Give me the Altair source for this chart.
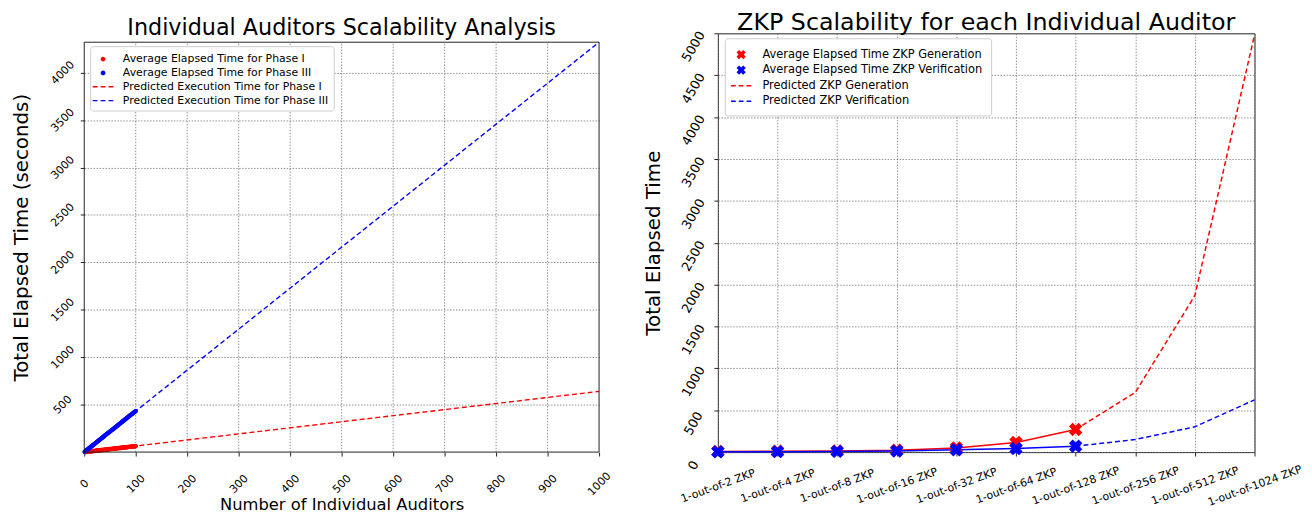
import altair as alt
import pandas as pd

FONT = "DejaVu Sans"

# ---------------- Left chart data ----------------
auditors = list(range(1, 101))
phase1_avg = [
    1, 1, 2, 3, 3, 4, 4, 5, 6, 6,
    7, 8, 8, 9, 9, 10, 11, 11, 12, 13,
    13, 14, 15, 15, 16, 16, 17, 18, 18, 19,
    20, 20, 21, 21, 22, 23, 23, 24, 25, 25,
    26, 26, 27, 28, 28, 29, 30, 30, 31, 32,
    32, 33, 33, 34, 35, 35, 36, 37, 37, 38,
    38, 39, 40, 40, 41, 42, 42, 43, 43, 44,
    45, 45, 46, 47, 47, 48, 49, 49, 50, 50,
    51, 52, 52, 53, 54, 54, 55, 55, 56, 57,
    57, 58, 59, 59, 60, 61, 61, 62, 62, 63,
]
phase3_avg = [
    4, 9, 12, 18, 21, 27, 30, 34, 40, 43,
    47, 53, 56, 60, 66, 69, 73, 78, 83, 86,
    90, 96, 99, 104, 109, 112, 116, 122, 125, 130,
    135, 138, 142, 148, 151, 155, 161, 164, 169, 174,
    177, 182, 187, 190, 195, 200, 203, 208, 213, 216,
    221, 226, 229, 234, 239, 242, 247, 252, 255, 260,
    265, 268, 273, 278, 281, 286, 291, 294, 299, 304,
    307, 312, 317, 320, 325, 330, 333, 338, 343, 346,
    351, 356, 359, 364, 369, 372, 377, 382, 385, 390,
    395, 398, 403, 408, 411, 416, 421, 424, 429, 434,
]
pred_x = [0, 1000]
pred_phase1 = [0, 640]
pred_phase3 = [0, 4320]
left_x_ticks = [0, 100, 200, 300, 400, 500, 600, 700, 800, 900, 1000]
left_y_ticks = [500, 1000, 1500, 2000, 2500, 3000, 3500, 4000]
LEFT_X_MAX = 1000
LEFT_Y_MAX = 4320          # top of the left plot frame
LEFT_Y_SCALE_MAX = 4414    # scale extends a little above the frame (layout alignment)

LEFT_SERIES = [
    "Average Elapsed Time for Phase I",
    "Average Elapsed Time for Phase III",
    "Predicted Execution Time for Phase I",
    "Predicted Execution Time for Phase III",
]

# ---------------- Right chart data ----------------
zkp_cats = ["1-out-of-2 ZKP", "1-out-of-4 ZKP", "1-out-of-8 ZKP", "1-out-of-16 ZKP",
            "1-out-of-32 ZKP", "1-out-of-64 ZKP", "1-out-of-128 ZKP", "1-out-of-256 ZKP",
            "1-out-of-512 ZKP", "1-out-of-1024 ZKP"]
gen_measured = [8, 10, 14, 22, 50, 115, 270]
ver_measured = [3, 5, 8, 12, 28, 42, 70]
pred_cats = ["1-out-of-128 ZKP", "1-out-of-256 ZKP", "1-out-of-512 ZKP", "1-out-of-1024 ZKP"]
gen_pred = [270, 712, 1870, 4980]
ver_pred = [70, 150, 302, 624]
right_y_ticks = [0, 500, 1000, 1500, 2000, 2500, 3000, 3500, 4000, 4500, 5000]

RIGHT_SERIES = [
    "Average Elapsed Time ZKP Generation",
    "Average Elapsed Time ZKP Verification",
    "Predicted ZKP Generation",
    "Predicted ZKP Verification",
]

RED = "#ff0000"
BLUE = "#0000ff"
FRAME = "#222222"
GRID = "#777777"

# symbol paths (unit square coordinates)
CIRCLE = "M-0.3,0A0.3,0.3 0 1,0 0.3,0A0.3,0.3 0 1,0 -0.3,0Z"
DASH_L = "M-1.3,-0.09H-0.7V0.09H-1.3Z M-0.3,-0.09H0.3V0.09H-0.3Z M0.7,-0.09H1.3V0.09H0.7Z"
DASH_R = "M-1.2,-0.09H-0.64V0.09H-1.2Z M-0.28,-0.09H0.28V0.09H-0.28Z M0.64,-0.09H1.2V0.09H0.64Z"
XMARK = ("M-0.55,-0.25L-0.25,-0.55L0,-0.3L0.25,-0.55L0.55,-0.25L0.3,0"
         "L0.55,0.25L0.25,0.55L0,0.3L-0.25,0.55L-0.55,0.25L-0.3,0Z")

# ---------------- Left chart ----------------
left_pts = pd.DataFrame({
    "auditors": auditors + auditors,
    "time": phase1_avg + phase3_avg,
    "series": [LEFT_SERIES[0]] * len(auditors) + [LEFT_SERIES[1]] * len(auditors),
})
left_pred = pd.DataFrame({
    "auditors": pred_x + pred_x,
    "time": pred_phase1 + pred_phase3,
    "series": [LEFT_SERIES[2]] * 2 + [LEFT_SERIES[3]] * 2,
    "lc": [RED] * 2 + [BLUE] * 2,
})
inner_x = left_x_ticks[1:-1]
left_vgrid = pd.DataFrame({
    "auditors": inner_x, "auditors2": inner_x,
    "time": [0] * len(inner_x), "time2": [LEFT_Y_MAX] * len(inner_x),
})
left_frame = pd.DataFrame({
    "auditors": [0, 0, 0, LEFT_X_MAX],
    "auditors2": [LEFT_X_MAX, LEFT_X_MAX, 0, LEFT_X_MAX],
    "time": [0, LEFT_Y_MAX, 0, 0],
    "time2": [0, LEFT_Y_MAX, LEFT_Y_MAX, LEFT_Y_MAX],
})

lx = alt.X("auditors:Q", scale=alt.Scale(domain=[0, LEFT_X_MAX], nice=False),
           axis=alt.Axis(values=left_x_ticks, format="d", labelAngle=-45, labelAlign="center",
                         labelBaseline="middle", labelPadding=28, labelFontSize=11, grid=False,
                         title="Number of Individual Auditors", titleFontSize=16.5,
                         titleY=53, titleBaseline="middle"))
ly = alt.Y("time:Q", scale=alt.Scale(domain=[0, LEFT_Y_SCALE_MAX], nice=False),
           axis=alt.Axis(values=left_y_ticks, format="d", labelAngle=-45, labelAlign="center",
                         labelBaseline="middle", labelPadding=18, labelFontSize=11,
                         title="Total Elapsed Time (seconds)", titleFontSize=20,
                         titleX=-63, titleY=206, titleBaseline="middle"))

left_legend = alt.Legend(title=None, orient="none", legendX=6, legendY=13, padding=5,
                         fillColor="white", strokeColor="#cccccc", cornerRadius=3,
                         labelFont=FONT, labelFontSize=11, labelColor="black",
                         symbolSize=256, rowPadding=1, labelOffset=12, labelLimit=400,
                         symbolStrokeWidth=0)

left_grid_layer = alt.Chart(left_vgrid).mark_rule(
    color=GRID, strokeDash=[1.5, 1.5], strokeWidth=0.8).encode(
    x=lx, x2=alt.X2("auditors2"), y=ly, y2=alt.Y2("time2"))
left_lines = alt.Chart(left_pred).mark_line(strokeDash=[5, 3], strokeWidth=1.4).encode(
    x=lx, y=ly, detail="series:N", color=alt.Color("lc:N", scale=None))
left_points = alt.Chart(left_pts).mark_point(filled=True, opacity=1, size=225, strokeWidth=0).encode(
    x=lx, y=ly,
    color=alt.Color("series:N", scale=alt.Scale(domain=LEFT_SERIES, range=[RED, BLUE, RED, BLUE]),
                    legend=left_legend),
    shape=alt.Shape("series:N", scale=alt.Scale(domain=LEFT_SERIES, range=[CIRCLE, CIRCLE, DASH_L, DASH_L]),
                    legend=left_legend),
)
left_frame_layer = alt.Chart(left_frame).mark_rule(color=FRAME, strokeWidth=1).encode(
    x=lx, x2=alt.X2("auditors2"), y=ly, y2=alt.Y2("time2"))

left = alt.layer(left_grid_layer, left_lines, left_points, left_frame_layer).properties(
    width=520, height=423,
    view=alt.ViewBackground(stroke="transparent"),
    title=alt.TitleParams("Individual Auditors Scalability Analysis", fontSize=22.5,
                          fontWeight="normal", offset=-6, color="black"))

# ---------------- Right chart ----------------
meas_cats = zkp_cats[:len(gen_measured)]
right_meas = pd.DataFrame({
    "cat": meas_cats + meas_cats,
    "time": gen_measured + ver_measured,
    "series": [RIGHT_SERIES[0]] * len(meas_cats) + [RIGHT_SERIES[1]] * len(meas_cats),
    "lc": [RED] * len(meas_cats) + [BLUE] * len(meas_cats),
})
right_pred = pd.DataFrame({
    "cat": pred_cats + pred_cats,
    "time": gen_pred + ver_pred,
    "series": [RIGHT_SERIES[2]] * 4 + [RIGHT_SERIES[3]] * 4,
    "lc": [RED] * 4 + [BLUE] * 4,
})

rx = alt.X("cat:N", sort=zkp_cats, scale=alt.Scale(type="point", domain=zkp_cats, padding=0),
           axis=alt.Axis(labelAngle=-20, labelAlign="center", labelBaseline="middle",
                         labelPadding=30, labelFontSize=11, title=None, grid=True))
ry = alt.Y("time:Q", scale=alt.Scale(domain=[0, 5000], nice=False),
           axis=alt.Axis(values=right_y_ticks, format="d", labelAngle=-60, labelAlign="center",
                         labelBaseline="middle", labelPadding=21, labelOffset=13, labelFontSize=13,
                         title="Total Elapsed Time", titleFontSize=20,
                         titleX=-65, titleBaseline="middle"))

right_legend = alt.Legend(title=None, orient="none", legendX=7, legendY=5, padding=8,
                          fillColor="white", strokeColor="#cccccc", cornerRadius=3,
                          labelFont=FONT, labelFontSize=11.5, labelColor="black",
                          symbolSize=289, rowPadding=1.7, labelOffset=13, labelLimit=400,
                          symbolStrokeWidth=0)

right_meas_lines = alt.Chart(right_meas).mark_line(strokeWidth=1.5).encode(
    x=rx, y=ry, detail="series:N", color=alt.Color("lc:N", scale=None))
right_pred_lines = alt.Chart(right_pred).mark_line(strokeWidth=1.5, strokeDash=[5, 3]).encode(
    x=rx, y=ry, detail="series:N", color=alt.Color("lc:N", scale=None))
right_points = alt.Chart(right_meas).mark_point(filled=True, opacity=1, size=600, strokeWidth=0).encode(
    x=rx, y=ry,
    color=alt.Color("series:N", scale=alt.Scale(domain=RIGHT_SERIES, range=[RED, BLUE, RED, BLUE]),
                    legend=right_legend),
    shape=alt.Shape("series:N", scale=alt.Scale(domain=RIGHT_SERIES, range=[XMARK, XMARK, DASH_R, DASH_R]),
                    legend=right_legend),
)
right = alt.layer(right_pred_lines, right_meas_lines, right_points).properties(
    width=542, height=423,
    title=alt.TitleParams("ZKP Scalability for each Individual Auditor", fontSize=24,
                          fontWeight="normal", offset=-6, color="black"))

chart = alt.concat(left, right, columns=2, spacing=30, align="none").resolve_scale(
    color="independent", shape="independent"
).properties(
    padding={"left": 3, "top": 0, "right": 0, "bottom": 0}
).configure(font=FONT).configure_view(
    stroke=FRAME, strokeWidth=1
).configure_axis(
    domain=False, tickSize=4, tickColor=FRAME, tickWidth=1,
    labelColor="black", titleColor="black", titleFontWeight="normal",
    grid=True, gridColor=GRID, gridDash=[1.5, 1.5], gridWidth=0.8,
    labelFont=FONT, titleFont=FONT,
).configure_title(anchor="middle", font=FONT)

chart.save("out.html", embed_options={"renderer": "svg", "actions": False})
